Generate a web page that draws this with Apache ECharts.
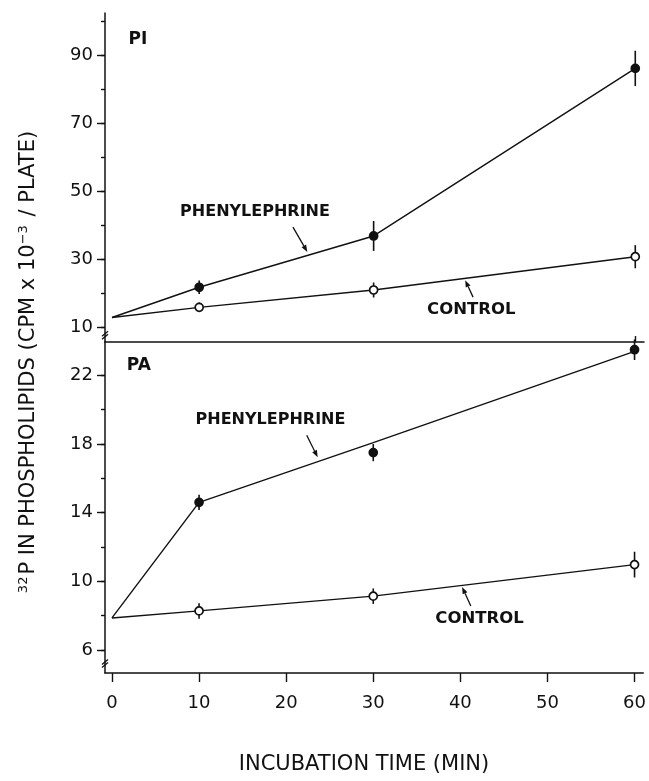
<!DOCTYPE html>
<html>
<head>
<meta charset="utf-8">
<script src="https://cdn.jsdelivr.net/npm/echarts@6/dist/echarts.min.js"></script>
<style>
  html, body { margin: 0; background: #fff; }
  #main { width: 649px; height: 781px; }
</style>
</head>
<body>
<div id="main"></div>
<script>
// sampling times (min)
var times = [10, 30, 60];
var curveTimes = [0, 10, 30, 60];

// PI panel (cpm x 10^-3 / plate)
var piPhe = [21.7, 36.8, 86.1];
var piPheErr = [2.0, 4.4, 5.2];
var piCtl = [15.8, 20.9, 30.7];
var piCtlErr = [1.4, 2.2, 3.4];
var piPheCurve = [12.8, 21.7, 36.8, 86.1];
var piCtlCurve = [12.8, 15.8, 20.9, 30.7];

// PA panel
var paPhe = [14.6, 17.5, 23.5];
var paPheErr = [0.45, 0.5, 0.6];
var paCtl = [8.27, 9.13, 10.97];
var paCtlErr = [0.45, 0.45, 0.75];
var paPheCurve = [7.86, 14.6, 18.08, 23.4];
var paCtlCurve = [7.86, 8.27, 9.13, 10.97];

// ticks
var xTicks = [0, 10, 20, 30, 40, 50, 60];
var piLabels = [10, 30, 50, 70, 90];
var piMinor = [10, 20, 30, 40, 50, 60, 70, 80, 90, 100];
var paLabels = [6, 10, 14, 18, 22];
var paMinor = [6, 8, 10, 12, 14, 16, 18, 20, 22];

// annotations, in data units of each panel [PI, PA]
var panelNames = ['PI', 'PA'];
var panelNameAt = [[1.9, 94.7], [1.7, 22.58]];
var pheNoteAt = [[16.4, 43.8], [18.2, 19.4]];
var ctlNoteAt = [[41.2, 15.0], [42.2, 7.8]];
var pheArrows = [[[20.75, 39.4], [22.4, 32.1]], [[22.36, 18.51], [23.62, 17.23]]];
var ctlArrows = [[[41.4, 18.8], [40.5, 23.8]], [[41.2, 8.56], [40.2, 9.67]]];

var font = "'DejaVu Sans', Verdana, sans-serif";
var ink = '#111';

function pairs(xs, ys) {
  return xs.map(function (x, i) { return [x, ys[i]]; });
}

function curve(vals, gi) {
  return {
    type: 'line', xAxisIndex: gi, yAxisIndex: gi * 2,
    data: pairs(curveTimes, vals), showSymbol: false, symbol: 'none',
    lineStyle: { color: ink, width: 1.4 }, z: 2, silent: true
  };
}

function points(vals, gi, filled) {
  return {
    type: 'scatter', xAxisIndex: gi, yAxisIndex: gi * 2,
    data: pairs(times, vals), symbol: 'circle', symbolSize: 8,
    itemStyle: { color: filled ? ink : '#fff', borderColor: ink, borderWidth: 1.7, opacity: 1 },
    z: 4, silent: true
  };
}

function errBars(vals, errs, gi) {
  return {
    type: 'custom', xAxisIndex: gi, yAxisIndex: gi * 2, clip: false,
    data: times.map(function (t, i) { return [t, vals[i] - errs[i], vals[i] + errs[i]]; }),
    encode: { x: 0, y: [1, 2] },
    renderItem: function (params, api) {
      var lo = api.coord([api.value(0), api.value(1)]);
      var hi = api.coord([api.value(0), api.value(2)]);
      return {
        type: 'line',
        shape: { x1: lo[0], y1: lo[1], x2: hi[0], y2: hi[1] },
        style: { stroke: ink, lineWidth: 1.6 }
      };
    },
    z: 3, silent: true
  };
}

function yAxes(gi, min, max, labels, minor) {
  return [{
    type: 'value', gridIndex: gi, min: min, max: max,
    axisLine: { show: true, onZero: false, lineStyle: { color: ink, width: 1.5 } },
    axisTick: { show: true, customValues: labels, length: 8, lineStyle: { color: ink, width: 1.4 } },
    axisLabel: { customValues: labels, color: ink, fontSize: 18, fontFamily: font, margin: 12 },
    splitLine: { show: false }
  }, {
    type: 'value', gridIndex: gi, min: min, max: max, position: 'left',
    axisLine: { show: false, onZero: false },
    axisTick: { show: true, customValues: minor, length: 4, lineStyle: { color: ink, width: 1.4 } },
    axisLabel: { show: false },
    splitLine: { show: false }
  }];
}

var chart = echarts.init(document.getElementById('main'));

chart.setOption({
  backgroundColor: '#fff',
  animation: false,
  grid: [
    { left: 105, right: 5, top: 13, height: 329 },
    { left: 105, right: 5, top: 342, height: 331 }
  ],
  xAxis: [{
    type: 'value', gridIndex: 0, min: -0.8, max: 61,
    axisLine: { show: true, onZero: false, lineStyle: { color: ink, width: 1.5 } },
    axisTick: { show: true, inside: true, customValues: [60], length: 6, lineStyle: { color: ink, width: 1.4 } },
    axisLabel: { show: false },
    splitLine: { show: false }
  }, {
    type: 'value', gridIndex: 1, min: -0.8, max: 61,
    axisLine: { show: true, onZero: false, lineStyle: { color: ink, width: 1.5 } },
    axisTick: { show: true, customValues: xTicks, length: 9, lineStyle: { color: ink, width: 1.4 } },
    axisLabel: { customValues: xTicks, color: ink, fontSize: 18, fontFamily: font, margin: 21 },
    splitLine: { show: false }
  }],
  yAxis: yAxes(0, 5.6, 102.4, piLabels, piMinor).concat(yAxes(1, 4.65, 23.95, paLabels, paMinor)),
  series: [
    curve(piPheCurve, 0), curve(piCtlCurve, 0),
    errBars(piPhe, piPheErr, 0), errBars(piCtl, piCtlErr, 0),
    points(piPhe, 0, true), points(piCtl, 0, false),
    curve(paPheCurve, 1), curve(paCtlCurve, 1),
    errBars(paPhe, paPheErr, 1), errBars(paCtl, paCtlErr, 1),
    points(paPhe, 1, true), points(paCtl, 1, false)
  ]
});

// annotations placed through the panel scales
function px(gi, p) {
  return chart.convertToPixel({ xAxisIndex: gi, yAxisIndex: gi * 2 }, p);
}

function arrow(a, b) {
  var dx = b[0] - a[0], dy = b[1] - a[1];
  var len = Math.sqrt(dx * dx + dy * dy);
  var ux = dx / len, uy = dy / len;
  var hl = 7, hw = 2.6;
  var bx = b[0] - ux * hl, by = b[1] - uy * hl;
  return [{
    type: 'line', silent: true,
    shape: { x1: a[0], y1: a[1], x2: bx, y2: by },
    style: { stroke: ink, lineWidth: 1.3 }
  }, {
    type: 'polygon', silent: true,
    shape: { points: [b, [bx - uy * hw, by + ux * hw], [bx + uy * hw, by - ux * hw]] },
    style: { fill: ink }
  }];
}

var els = [];
[0, 1].forEach(function (gi) {
  var p = px(gi, panelNameAt[gi]);
  els.push({
    type: 'text', x: p[0], y: p[1], silent: true,
    style: { text: panelNames[gi], font: 'bold 17px ' + font, fill: ink, align: 'left', verticalAlign: 'middle' }
  });
  p = px(gi, pheNoteAt[gi]);
  els.push({
    type: 'text', x: p[0], y: p[1], silent: true,
    style: { text: 'PHENYLEPHRINE', font: 'bold 16px ' + font, fill: ink, align: 'center', verticalAlign: 'middle' }
  });
  p = px(gi, ctlNoteAt[gi]);
  els.push({
    type: 'text', x: p[0], y: p[1], silent: true,
    style: { text: 'CONTROL', font: 'bold 16.5px ' + font, fill: ink, align: 'center', verticalAlign: 'middle' }
  });
  els = els.concat(arrow(px(gi, pheArrows[gi][0]), px(gi, pheArrows[gi][1])));
  els = els.concat(arrow(px(gi, ctlArrows[gi][0]), px(gi, ctlArrows[gi][1])));
});

// axis break marks below the lowest labelled value of each panel
[[0, 7.6], [1, 5.2]].forEach(function (b) {
  var p = px(b[0], [-0.8, b[1]]);
  els.push({
    type: 'rect', silent: true, shape: { x: p[0] - 3, y: p[1] - 3, width: 6, height: 6 },
    style: { fill: '#fff' }
  });
  els.push({
    type: 'polyline', silent: true,
    shape: { points: [[p[0] - 3, p[1] + 1], [p[0] + 3, p[1] - 4]] },
    style: { stroke: ink, lineWidth: 1.3, fill: null }
  });
  els.push({
    type: 'polyline', silent: true,
    shape: { points: [[p[0] - 3, p[1] + 4], [p[0] + 3, p[1] - 1]] },
    style: { stroke: ink, lineWidth: 1.3, fill: null }
  });
});

// axis titles
els.push({
  type: 'text', x: 29, y: 362, rotation: Math.PI / 2, silent: true,
  style: {
    text: '{s|32}P IN PHOSPHOLIPIDS (CPM x 10{s|\u22123} / PLATE)',
    font: '21px ' + font, fill: ink, align: 'center', verticalAlign: 'middle',
    rich: { s: { fontSize: 13, fontFamily: font, fill: ink, verticalAlign: 'top', padding: [0, 2, 10, 0] } }
  }
});
els.push({
  type: 'text', x: 364, y: 765, silent: true,
  style: { text: 'INCUBATION TIME (MIN)', font: '21px ' + font, fill: ink, align: 'center', verticalAlign: 'middle' }
});

chart.setOption({ graphic: { elements: els } });
</script>
</body>
</html>
